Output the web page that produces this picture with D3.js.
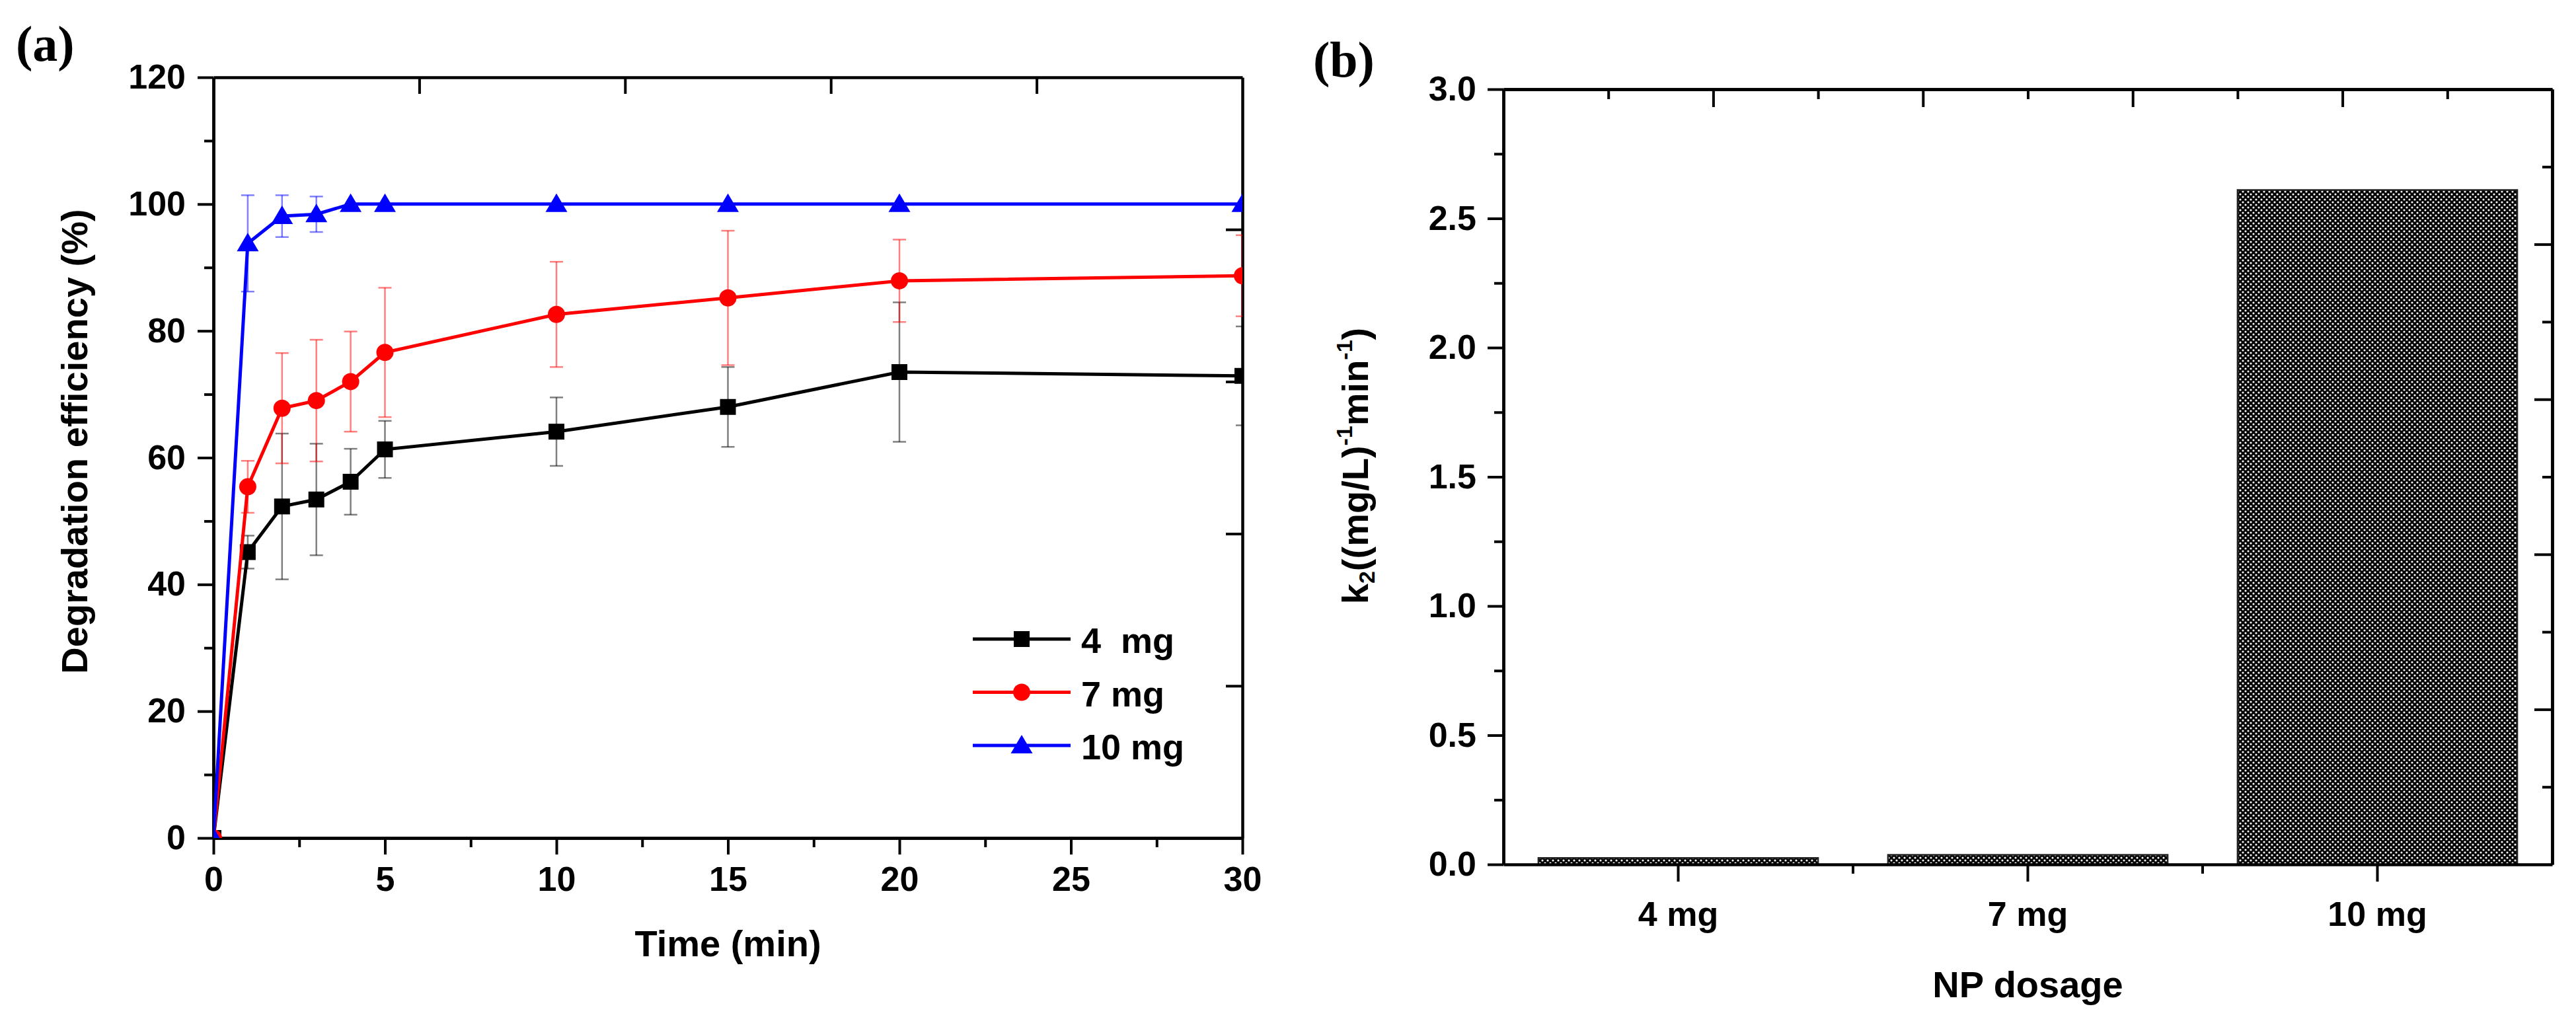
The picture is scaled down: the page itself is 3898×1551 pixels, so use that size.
<!DOCTYPE html>
<html>
<head>
<meta charset="utf-8">
<script src="https://cdn.jsdelivr.net/npm/d3@7"></script>
<style>
  body { margin: 0; background: #fff; }
  svg { display: block; background: #fff; }
</style>
</head>
<body>
<svg id="chart"></svg>
<script>
// ---- DATA ----
const time = [0, 1, 2, 3, 4, 5, 10, 15, 20, 30];

const eff4mg = [0, 45.1, 52.3, 53.4, 56.2, 61.3, 64.1, 68.0, 73.5, 72.9];
const err4mg = [0, 2.6, 11.5, 8.8, 5.2, 4.5, 5.4, 6.3, 11.0, 7.8];

const eff7mg = [0, 55.4, 67.8, 69.0, 72.0, 76.6, 82.6, 85.2, 87.9, 88.7];
const err7mg = [0, 4.1, 8.7, 9.6, 7.9, 10.2, 8.3, 10.6, 6.5, 6.4];

const eff10mg = [0, 93.8, 98.1, 98.4, 100, 100, 100, 100, 100, 100];
const err10mg = [0, 7.6, 3.3, 2.8, 0, 0, 0, 0, 0, 0];

const seriesLabels = ['4  mg', '7 mg', '10 mg'];
const seriesColors = ['#000000', '#ff0000', '#0000ff'];
const seriesShapes = ['square', 'circle', 'triangle'];

const timeTicks = [0, 5, 10, 15, 20, 25, 30];
const effTicks = [0, 20, 40, 60, 80, 100, 120];

const dosages = ['4 mg', '7 mg', '10 mg'];
const k2Values = [0.025, 0.037, 2.61];
const k2Ticks = [0, 0.5, 1.0, 1.5, 2.0, 2.5, 3.0];

// ---- SETUP ----
const W = 3898, H = 1551;
const font = '"Liberation Sans", Arial, Helvetica, sans-serif';
const serif = '"Liberation Serif", "Times New Roman", serif';
const tickFont = 52, titleFont = 56;

const svg = d3.select('#chart').attr('width', W).attr('height', H);
const defs = svg.append('defs');

function styleAxis(g, opts = {}) {
  g.select('.domain').attr('stroke', '#000').attr('stroke-width', opts.domain === false ? 0 : 4.5);
  g.selectAll('.tick line').attr('stroke', '#000').attr('stroke-width', 4);
  g.selectAll('.tick text')
    .attr('font-family', font)
    .attr('font-weight', 'bold')
    .attr('font-size', tickFont)
    .attr('fill', '#000');
}

function markerPath(shape) {
  if (shape === 'square') return 'M-12,-12H12V12H-12Z';
  if (shape === 'circle') return d3.symbol(d3.symbolCircle, Math.PI * 13 * 13)();
  return 'M0,-16L16.5,12L-16.5,12Z';
}

// =====================================================================
// ---- PANEL (a): degradation efficiency vs time ----
// =====================================================================
const a = {left: 323, right: 1880, top: 117, bottom: 1268};

const xA = d3.scaleLinear().domain([0, 30]).range([a.left, a.right]);
const yA = d3.scaleLinear().domain([0, 120]).range([a.bottom, a.top]);

defs.append('clipPath').attr('id', 'clipA')
  .append('rect')
  .attr('x', a.left).attr('y', a.top)
  .attr('width', a.right - a.left).attr('height', a.bottom - a.top);

// minor ticks first, majors + labels on top
svg.append('g')
  .attr('transform', `translate(0,${a.bottom})`)
  .call(d3.axisBottom(xA).tickValues(d3.range(2.5, 30, 5)).tickSize(14).tickSizeOuter(0).tickFormat(''))
  .call(g => styleAxis(g));
svg.append('g')
  .attr('transform', `translate(0,${a.bottom})`)
  .call(d3.axisBottom(xA).tickValues(timeTicks).tickSize(25).tickSizeOuter(0).tickPadding(18))
  .call(g => styleAxis(g));

svg.append('g')
  .attr('transform', `translate(${a.left},0)`)
  .call(d3.axisLeft(yA).tickValues(d3.range(10, 120, 20)).tickSize(14).tickSizeOuter(0).tickFormat(''))
  .call(g => styleAxis(g));
svg.append('g')
  .attr('transform', `translate(${a.left},0)`)
  .call(d3.axisLeft(yA).tickValues(effTicks).tickSize(24).tickSizeOuter(0).tickPadding(18))
  .call(g => styleAxis(g));

// top and right frame axes (unlabelled, inward ticks, own spacing as in the original)
const frameTopA = d3.scaleLinear().domain([0, 5]).range([a.left, a.right]);
const frameRightA = d3.scaleLinear().domain([0, 5]).range([a.bottom, a.top]);
svg.append('g')
  .attr('transform', `translate(0,${a.top})`)
  .call(d3.axisBottom(frameTopA).tickValues([1, 2, 3, 4]).tickSize(25).tickSizeOuter(0).tickFormat(''))
  .call(g => styleAxis(g));
svg.append('g')
  .attr('transform', `translate(${a.right},0)`)
  .call(d3.axisLeft(frameRightA).tickValues([1, 2, 3, 4]).tickSize(25).tickSizeOuter(0).tickFormat(''))
  .call(g => styleAxis(g));

// series
const seriesA = [
  {values: eff4mg, errors: err4mg},
  {values: eff7mg, errors: err7mg},
  {values: eff10mg, errors: err10mg}
].map((s, i) => ({
  label: seriesLabels[i],
  color: seriesColors[i],
  shape: seriesShapes[i],
  points: time.map((t, j) => ({t: t, v: s.values[j], e: s.errors[j]}))
}));

const plotA = svg.append('g').attr('clip-path', 'url(#clipA)');
const line = d3.line().x(d => xA(d.t)).y(d => yA(d.v));
const capHalf = 10;

const sGroups = plotA.selectAll('.series')
  .data(seriesA)
  .join('g')
  .attr('class', 'series');

// error bars (faded, drawn under the line)
sGroups.each(function (s) {
  const eb = d3.select(this).append('g')
    .attr('stroke', s.color)
    .attr('stroke-opacity', 0.5)
    .attr('stroke-width', 2.5)
    .attr('fill', 'none');
  const withErr = s.points.filter(p => p.e > 0);
  eb.selectAll('.stem').data(withErr).join('line')
    .attr('x1', p => xA(p.t)).attr('x2', p => xA(p.t))
    .attr('y1', p => yA(p.v + p.e)).attr('y2', p => yA(p.v - p.e));
  eb.selectAll('.capTop').data(withErr).join('line')
    .attr('x1', p => xA(p.t) - capHalf).attr('x2', p => xA(p.t) + capHalf)
    .attr('y1', p => yA(p.v + p.e)).attr('y2', p => yA(p.v + p.e));
  eb.selectAll('.capBot').data(withErr).join('line')
    .attr('x1', p => xA(p.t) - capHalf).attr('x2', p => xA(p.t) + capHalf)
    .attr('y1', p => yA(p.v - p.e)).attr('y2', p => yA(p.v - p.e));
});

sGroups.append('path')
  .attr('d', s => line(s.points))
  .attr('fill', 'none')
  .attr('stroke', s => s.color)
  .attr('stroke-width', 5);

sGroups.each(function (s) {
  d3.select(this).selectAll('.marker')
    .data(s.points)
    .join('path')
    .attr('class', 'marker')
    .attr('d', markerPath(s.shape))
    .attr('transform', p => `translate(${xA(p.t)},${yA(p.v)})`)
    .attr('fill', s.color);
});

// legend
const legendA = svg.append('g').attr('transform', 'translate(1472,967)');
const legItems = legendA.selectAll('.leg')
  .data(seriesA)
  .join('g')
  .attr('class', 'leg')
  .attr('transform', (d, i) => `translate(0,${i * 80.5})`);
legItems.append('line')
  .attr('x1', 0).attr('x2', 148)
  .attr('stroke', d => d.color).attr('stroke-width', 5);
legItems.append('path')
  .attr('d', d => markerPath(d.shape))
  .attr('transform', 'translate(74,0)')
  .attr('fill', d => d.color);
legItems.append('text')
  .attr('x', 164).attr('y', 21)
  .attr('font-family', font).attr('font-weight', 'bold').attr('font-size', 54)
  .attr('xml:space', 'preserve')
  .style('white-space', 'pre')
  .text(d => d.label);

// titles
svg.append('text')
  .attr('x', (a.left + a.right) / 2).attr('y', 1447)
  .attr('text-anchor', 'middle')
  .attr('font-family', font).attr('font-weight', 'bold').attr('font-size', titleFont)
  .text('Time (min)');
svg.append('text')
  .attr('transform', 'translate(132,668) rotate(-90)')
  .attr('text-anchor', 'middle')
  .attr('font-family', font).attr('font-weight', 'bold').attr('font-size', titleFont)
  .text('Degradation efficiency (%)');
svg.append('text')
  .attr('x', 24).attr('y', 92)
  .attr('font-family', serif).attr('font-weight', 'bold').attr('font-size', 76)
  .text('(a)');

// =====================================================================
// ---- PANEL (b): k2 vs NP dosage ----
// =====================================================================
const b = {left: 2275, right: 3862, top: 135, bottom: 1308};

const xB = d3.scaleBand().domain(dosages).range([b.left, b.right]).paddingInner(0.2).paddingOuter(0.1);
const yB = d3.scaleLinear().domain([0, 3]).range([b.bottom, b.top]);

// dense dotted crosshatch fill like the original bars
const pat = defs.append('pattern')
  .attr('id', 'dots')
  .attr('patternUnits', 'userSpaceOnUse')
  .attr('width', 8).attr('height', 8);
pat.append('rect').attr('width', 8).attr('height', 8).attr('fill', '#050505');
pat.append('circle').attr('cx', 2).attr('cy', 2).attr('r', 1.55).attr('fill', '#fff');
pat.append('circle').attr('cx', 6).attr('cy', 6).attr('r', 1.55).attr('fill', '#fff');

const barData = dosages.map((d, i) => ({dose: d, k: k2Values[i]}));
svg.append('g').selectAll('rect')
  .data(barData)
  .join('rect')
  .attr('x', d => xB(d.dose))
  .attr('width', xB.bandwidth())
  .attr('y', d => yB(d.k))
  .attr('height', d => yB(0) - yB(d.k))
  .attr('fill', 'url(#dots)')
  .attr('stroke', '#222')
  .attr('stroke-width', 2.5);

// bottom axis: majors at category centres, minors between categories
const boundaries = dosages.slice(1).map(d => xB(d) - xB.step() * xB.paddingInner() / 2);
svg.append('g')
  .attr('transform', `translate(0,${b.bottom})`)
  .call(d3.axisBottom(xB).tickSize(26).tickSizeOuter(0).tickPadding(30))
  .call(g => styleAxis(g));
svg.append('g').selectAll('line')
  .data(boundaries)
  .join('line')
  .attr('x1', d => d).attr('x2', d => d)
  .attr('y1', b.bottom).attr('y2', b.bottom + 14)
  .attr('stroke', '#000').attr('stroke-width', 4);

svg.append('g')
  .attr('transform', `translate(${b.left},0)`)
  .call(d3.axisLeft(yB).tickValues(d3.range(0.25, 3, 0.5)).tickSize(14).tickSizeOuter(0).tickFormat(''))
  .call(g => styleAxis(g));
svg.append('g')
  .attr('transform', `translate(${b.left},0)`)
  .call(d3.axisLeft(yB).tickValues(k2Ticks).tickSize(24).tickSizeOuter(0).tickPadding(17).tickFormat(d3.format('.1f')))
  .call(g => styleAxis(g));

// top and right frame axes (10 divisions, alternating minor / major)
const frameTopB = d3.scaleLinear().domain([0, 10]).range([b.left, b.right]);
const frameRightB = d3.scaleLinear().domain([0, 10]).range([b.bottom, b.top]);
const oddDiv = [1, 3, 5, 7, 9], evenDiv = [2, 4, 6, 8];
svg.append('g')
  .attr('transform', `translate(0,${b.top})`)
  .call(d3.axisBottom(frameTopB).tickValues(oddDiv).tickSize(15).tickSizeOuter(0).tickFormat(''))
  .call(g => styleAxis(g));
svg.append('g')
  .attr('transform', `translate(0,${b.top})`)
  .call(d3.axisBottom(frameTopB).tickValues(evenDiv).tickSize(27).tickSizeOuter(0).tickFormat(''))
  .call(g => styleAxis(g));
svg.append('g')
  .attr('transform', `translate(${b.right},0)`)
  .call(d3.axisLeft(frameRightB).tickValues(oddDiv).tickSize(15).tickSizeOuter(0).tickFormat(''))
  .call(g => styleAxis(g));
svg.append('g')
  .attr('transform', `translate(${b.right},0)`)
  .call(d3.axisLeft(frameRightB).tickValues(evenDiv).tickSize(27).tickSizeOuter(0).tickFormat(''))
  .call(g => styleAxis(g));

// titles
svg.append('text')
  .attr('x', (b.left + b.right) / 2).attr('y', 1509)
  .attr('text-anchor', 'middle')
  .attr('font-family', font).attr('font-weight', 'bold').attr('font-size', titleFont)
  .text('NP dosage');

const yTitleB = svg.append('text')
  .attr('transform', 'translate(2070,705) rotate(-90)')
  .attr('text-anchor', 'middle')
  .attr('font-family', font).attr('font-weight', 'bold').attr('font-size', titleFont);
yTitleB.append('tspan').text('k');
yTitleB.append('tspan').attr('font-size', 34).attr('dy', 10).text('2');
yTitleB.append('tspan').attr('dy', -10).text('((mg/L)');
yTitleB.append('tspan').attr('font-size', 34).attr('dy', -24).text('-1');
yTitleB.append('tspan').attr('dy', 24).text('min');
yTitleB.append('tspan').attr('font-size', 34).attr('dy', -24).text('-1');
yTitleB.append('tspan').attr('dy', 24).text(')');

svg.append('text')
  .attr('x', 1987).attr('y', 116)
  .attr('font-family', serif).attr('font-weight', 'bold').attr('font-size', 76)
  .text('(b)');
</script>
</body>
</html>
